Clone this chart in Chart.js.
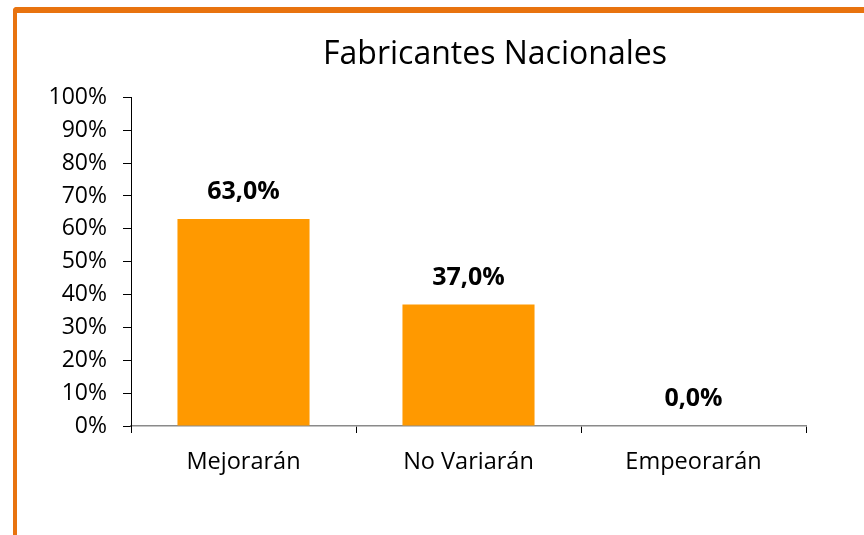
<!DOCTYPE html>
<html>
<head>
<meta charset="utf-8">
<script src="https://cdn.jsdelivr.net/npm/chart.js@4.4.1/dist/chart.umd.min.js"></script>
<style>
  html, body { margin: 0; padding: 0; background: #fff; }
  #wrap { position: relative; width: 864px; height: 535px; overflow: hidden; }
  #frame {
    position: absolute; left: 13px; top: 7px; width: 900px; height: 600px;
    border-top: 6px solid #E8730F; border-left: 4px solid #E8730F;
    border-top-left-radius: 4px;
  }
  #chart { position: absolute; left: 0; top: 0; }
</style>
</head>
<body>
<div id="wrap">
  <div id="frame"></div>
  <canvas id="chart" width="864" height="535"></canvas>
</div>
<script>
// Chart data
var categories = ["Mejorarán", "No Variarán", "Empeorarán"];
var shares = [63.0, 37.0, 0.0];
var yTicks = [0, 10, 20, 30, 40, 50, 60, 70, 80, 90, 100];

var FONT = "'Open Sans', 'DejaVu Sans', sans-serif";

// Value labels above each bar, e.g. "63,0%"
var valueLabels = {
  id: "valueLabels",
  afterDatasetsDraw: function (chart) {
    var ctx = chart.ctx;
    var meta = chart.getDatasetMeta(0);
    ctx.save();
    ctx.font = "bold 25px " + FONT;
    ctx.fillStyle = "#000";
    ctx.textAlign = "center";
    ctx.textBaseline = "middle";
    meta.data.forEach(function (bar, i) {
      var txt = shares[i].toFixed(1).replace(".", ",") + "%";
      ctx.fillText(txt, bar.x, bar.y - 27);
    });
    ctx.restore();
  },
};

function drawChart() {
  new Chart(document.getElementById("chart"), {
    type: "bar",
    data: {
      labels: categories,
      datasets: [
        {
          data: shares,
          backgroundColor: "#FF9900",
          borderWidth: 0,
          barPercentage: 0.587,
          categoryPercentage: 1,
        },
      ],
    },
    options: {
      responsive: false,
      animation: false,
      // negative right padding so the title centres over the full original frame
      layout: { padding: { left: 0, right: -126, top: 28, bottom: 0 } },
      plugins: {
        legend: { display: false },
        tooltip: { enabled: false },
        title: {
          display: true,
          text: "Fabricantes Nacionales",
          color: "#000",
          font: { family: FONT, size: 32, weight: "normal" },
          padding: { top: 8, bottom: 23 },
        },
      },
      scales: {
        x: {
          grid: {
            offset: true,
            drawOnChartArea: false,
            drawTicks: true,
            tickLength: 7,
            color: "#000",
          },
          border: { display: true, color: "#8a8a8a", width: 1.5 },
          ticks: {
            color: "#000",
            padding: 15,
            font: { family: FONT, size: 23.5 },
          },
          afterFit: function (s) {
            s.height = 109;
          },
        },
        y: {
          min: 0,
          max: 100,
          afterBuildTicks: function (s) {
            s.ticks = yTicks.map(function (v) {
              return { value: v };
            });
          },
          grid: {
            drawOnChartArea: false,
            drawTicks: true,
            tickLength: 8,
            color: "#000",
          },
          border: { display: true, color: "#000", width: 1 },
          ticks: {
            color: "#000",
            padding: 16,
            font: { family: FONT, size: 23 },
            callback: function (v) {
              return v + "%";
            },
          },
          afterFit: function (s) {
            s.width = 131;
          },
        },
        spacer: {
          position: "right",
          display: true,
          grid: { display: false },
          border: { display: false },
          ticks: { display: false },
          afterFit: function (s) {
            s.width = 58 + 126;
          },
        },
      },
    },
    plugins: [valueLabels],
  });
}

document.addEventListener("DOMContentLoaded", function () {
  drawChart();
});
</script>
</body>
</html>
